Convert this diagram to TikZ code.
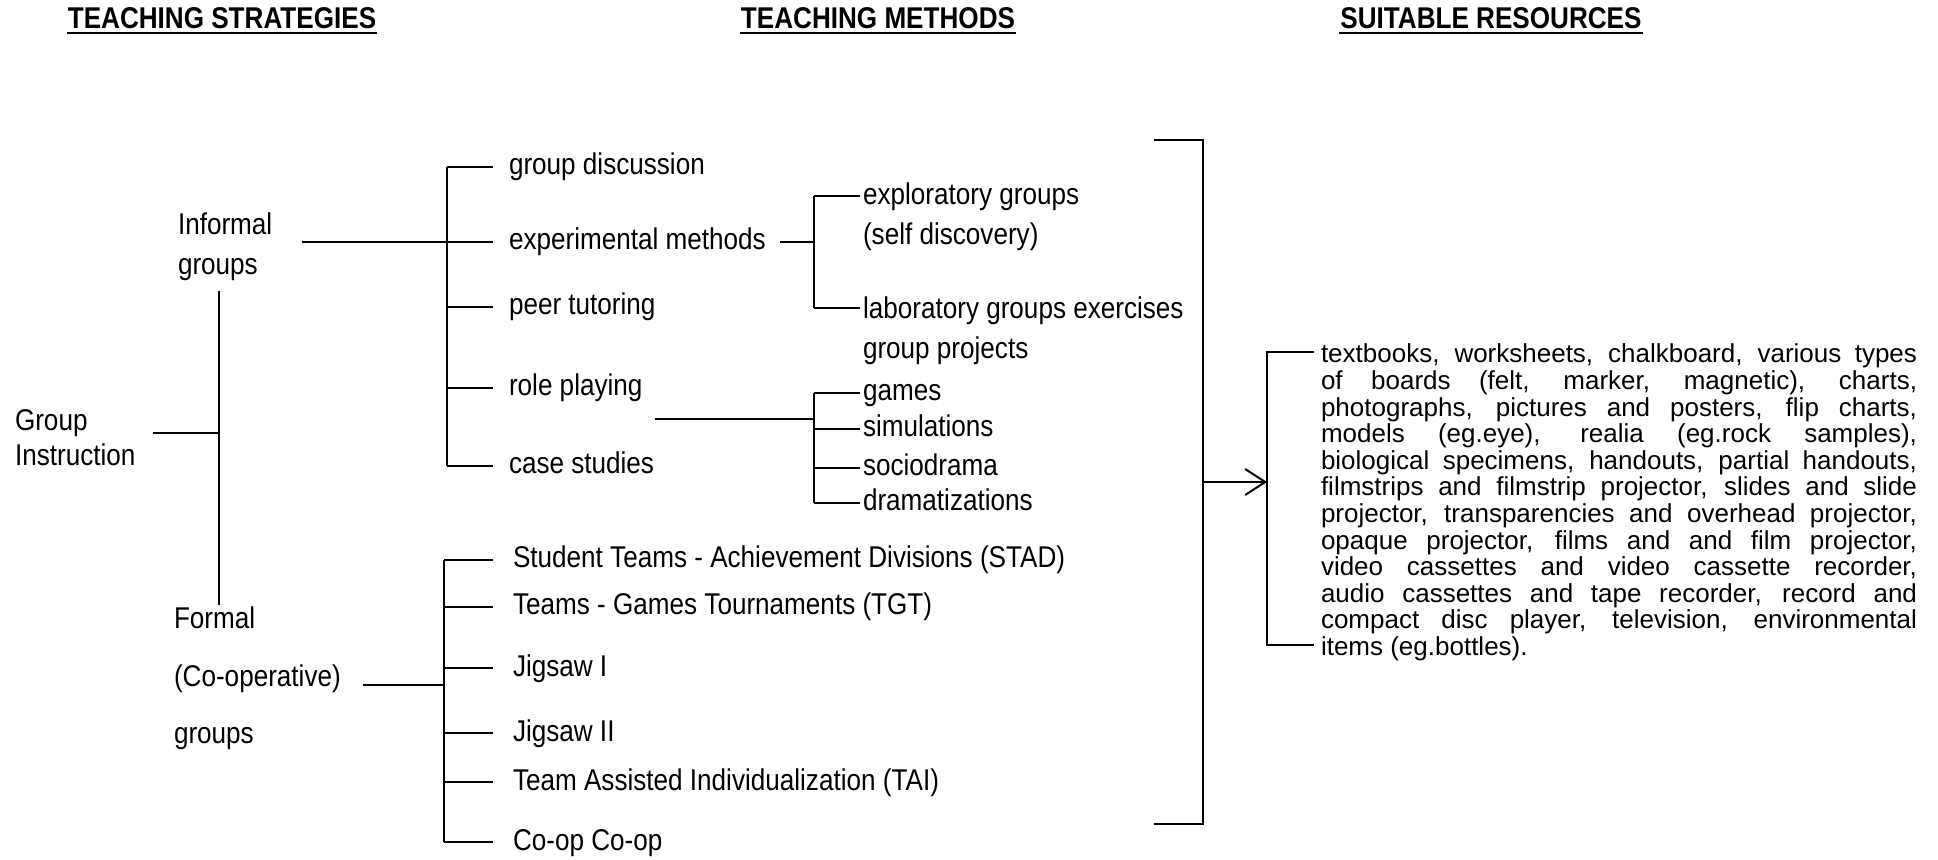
\documentclass[tikz,border=0pt]{standalone}
\usepackage{fontspec}
\setmainfont[FakeStretch=0.87]{Liberation Sans}
\newfontfamily\resfont{Liberation Sans}
\usetikzlibrary{arrows.meta}
\newcommand\resline[1]{\makebox[298pt][s]{#1}}
\newcommand\ressetup{\resfont\fontsize{13}{13.3}\selectfont\lineskiplimit -20pt\relax}
\begin{document}
\begin{tikzpicture}[x=0.5pt,y=-0.5pt,line width=1pt,
  hdr/.style={inner sep=0pt,anchor=base,font=\bfseries\fontsize{15}{18}\selectfont},
  lbl/.style={inner sep=0pt,anchor=west,text height=11pt,text depth=3pt,font=\fontsize{15}{18}\selectfont},
  mlbl/.style={inner sep=0pt,anchor=north west,align=left,font=\fontsize{15}{#1}\selectfont},
  res/.style={inner sep=0pt,anchor=north west,align=left,font=\ressetup},
  ulin/.style={line width=1.2pt}]
\fill[white] (0,0) rectangle (1938,860);
\useasboundingbox (0,0) rectangle (1938,860);

% headers
\node[hdr] (h1) at (222,29) {TEACHING STRATEGIES};
\node[hdr] (h2) at (878,29) {TEACHING METHODS};
\node[hdr] (h3) at (1491,29) {SUITABLE RESOURCES};
\foreach \h in {h1,h2,h3} \draw[ulin] ([yshift=-2pt]\h.base west) -- ([yshift=-2pt]\h.base east);

% strategies
\node[mlbl=17.5pt] (gi) at (14,409) {Group\\Instruction};
\node[mlbl=20pt] (inf) at (177,212) {Informal\\groups};
\node[mlbl=28.75pt] (frm) at (173,606) {Formal\\(Co-operative)\\groups};

% informal methods
\node[lbl] (gd) at (508,167) {group discussion};
\node[lbl] (exm) at (508,242) {experimental methods};
\node[lbl] (peer) at (508,307) {peer tutoring};
\node[lbl] (role) at (508,388) {role playing};
\node[lbl] (cs) at (508,466) {case studies};

\node[mlbl=20pt] (expl) at (862,182) {exploratory groups\\(self discovery)};
\node[mlbl=20pt] (lab) at (862,296) {laboratory groups exercises\\group projects};

\node[lbl] (games) at (862,393) {games};
\node[lbl] (sim) at (862,429) {simulations};
\node[lbl] (soc) at (862,468) {sociodrama};
\node[lbl] (dram) at (862,503) {dramatizations};

% formal methods
\node[lbl] (stad) at (512,560) {Student Teams - Achievement Divisions (STAD)};
\node[lbl] (tgt) at (512,607) {Teams - Games Tournaments (TGT)};
\node[lbl] (jig1) at (512,668) {Jigsaw I};
\node[lbl] (jig2) at (512,733) {Jigsaw II};
\node[lbl] (tai) at (512,782) {Team Assisted Individualization (TAI)};
\node[lbl] (coop) at (512,842) {Co-op Co-op};

% resources
\node[res] (res) at (1320,343) {%
\resline{textbooks, worksheets, chalkboard, various types}\\
\resline{of boards (felt, marker, magnetic), charts,}\\
\resline{photographs, pictures and posters, flip charts,}\\
\resline{models (eg.eye), realia (eg.rock samples),}\\
\resline{biological specimens, handouts, partial handouts,}\\
\resline{filmstrips and filmstrip projector, slides and slide}\\
\resline{projector, transparencies and overhead projector,}\\
\resline{opaque projector, films and and film projector,}\\
\resline{video cassettes and video cassette recorder,}\\
\resline{audio cassettes and tape recorder, record and}\\
\resline{compact disc player, television, environmental}\\
items (eg.bottles).};

% junction coordinates
\coordinate (mainT) at (219,291);
\coordinate (mainB) at (219,605);
\coordinate (giR) at (153,433);
\coordinate (infR) at (302,242);
\coordinate (frmR) at (363,685);
\coordinate (ibx) at (447,0);
\coordinate (fbx) at (444,0);
\coordinate (ebx) at (814,0);
\coordinate (rlJ) at (814,419);
\coordinate (bbT) at (1154,140);
\coordinate (bbB) at (1154,824);
\coordinate (bbx) at (1203,0);
\coordinate (arr) at (1203,482);
\coordinate (rbx) at (1267,0);
\coordinate (rbT) at (1267,352);
\coordinate (rbB) at (1267,645);

% strategy connectors
\draw (mainT) -- (mainB);
\draw (giR) -- (giR -| mainT);

% informal bracket
\draw (infR) -- (ibx |- exm.west);
\draw (ibx |- gd.west) -- (ibx |- cs.west);
\foreach \n in {gd,exm,peer,role,cs} \draw (ibx |- \n.west) -- ([xshift=-7.5pt]\n.west);

% experimental sub-bracket
\coordinate (explT) at ([yshift=-7pt]expl.north west);
\coordinate (labT) at ([yshift=-6pt]lab.north west);
\draw ([xshift=6.5pt]exm.east) -- (ebx |- exm.east);
\draw (ebx |- explT) -- (ebx |- labT);
\draw (ebx |- explT) -- ([xshift=-1pt]explT);
\draw (ebx |- labT) -- ([xshift=-1pt]labT);

% role playing sub-bracket
\draw ([xshift=6pt]role.east |- rlJ) -- (rlJ);
\draw (ebx |- games.west) -- (ebx |- dram.west);
\foreach \n in {games,sim,soc,dram} \draw (ebx |- \n.west) -- ([xshift=-1pt]\n.west);

% formal bracket
\draw (frmR) -- (fbx |- frmR);
\draw (fbx |- stad.west) -- (fbx |- coop.west);
\foreach \n in {stad,tgt,jig1,jig2,tai,coop} \draw (fbx |- \n.west) -- ([xshift=-9.5pt]\n.west);

% big bracket and arrow
\draw (bbT) -- (bbx |- bbT) -- (bbx |- bbB) -- (bbB);
\draw[-{Straight Barb[length=10pt,width=13pt]}] (arr) -- (rbx |- arr);
\draw ([xshift=-3pt]res.west |- rbT) -- (rbT) -- (rbB) -- ([xshift=-3pt]res.west |- rbB);
\end{tikzpicture}
\end{document}
